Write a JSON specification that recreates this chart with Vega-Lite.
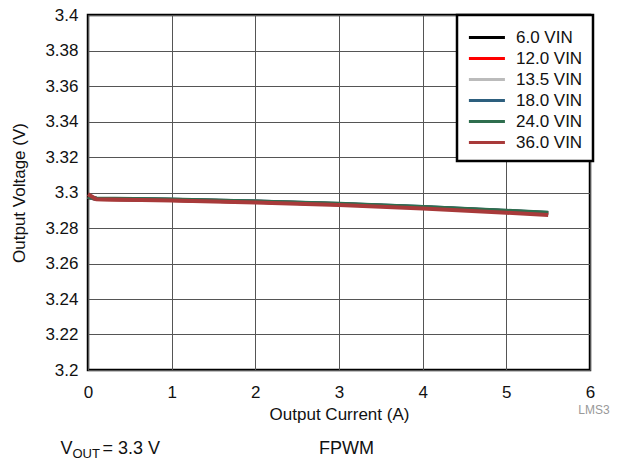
{
  "$schema": "https://vega.github.io/schema/vega-lite/v6.json",
  "width": 502,
  "height": 355,
  "autosize": "none",
  "padding": {"left": 88, "top": 15, "right": 32, "bottom": 93},
  "background": "white",
  "config": {
    "font": "Liberation Sans",
    "view": {"stroke": "black", "strokeWidth": 2.5},
    "text": {"font": "Liberation Sans"},
    "axis": {
      "labelFont": "Liberation Sans",
      "titleFont": "Liberation Sans",
      "labelFontSize": 17,
      "titleFontSize": 17,
      "titleFontWeight": "normal",
      "labelColor": "#111",
      "titleColor": "#111",
      "gridColor": "#555",
      "gridWidth": 1,
      "gridOpacity": 1,
      "domain": false,
      "ticks": false,
      "labelOverlap": false
    },
    "legend": {
      "labelFont": "Liberation Sans",
      "labelFontSize": 17,
      "labelColor": "#111"
    }
  },
  "data": {
    "values": [
      {"vin": "6.0 VIN", "i": 0, "v": 3.2975},
      {"vin": "6.0 VIN", "i": 0.1, "v": 3.2964},
      {"vin": "6.0 VIN", "i": 1, "v": 3.2958},
      {"vin": "6.0 VIN", "i": 2, "v": 3.2948},
      {"vin": "6.0 VIN", "i": 3, "v": 3.2934},
      {"vin": "6.0 VIN", "i": 4, "v": 3.2916},
      {"vin": "6.0 VIN", "i": 5, "v": 3.2894},
      {"vin": "6.0 VIN", "i": 5.5, "v": 3.2882},
      {"vin": "12.0 VIN", "i": 0, "v": 3.2976},
      {"vin": "12.0 VIN", "i": 0.1, "v": 3.2964},
      {"vin": "12.0 VIN", "i": 1, "v": 3.2958},
      {"vin": "12.0 VIN", "i": 2, "v": 3.2948},
      {"vin": "12.0 VIN", "i": 3, "v": 3.2934},
      {"vin": "12.0 VIN", "i": 4, "v": 3.2916},
      {"vin": "12.0 VIN", "i": 5, "v": 3.2895},
      {"vin": "12.0 VIN", "i": 5.5, "v": 3.2883},
      {"vin": "13.5 VIN", "i": 0, "v": 3.2976},
      {"vin": "13.5 VIN", "i": 0.1, "v": 3.2965},
      {"vin": "13.5 VIN", "i": 1, "v": 3.2959},
      {"vin": "13.5 VIN", "i": 2, "v": 3.2949},
      {"vin": "13.5 VIN", "i": 3, "v": 3.2935},
      {"vin": "13.5 VIN", "i": 4, "v": 3.2917},
      {"vin": "13.5 VIN", "i": 5, "v": 3.2895},
      {"vin": "13.5 VIN", "i": 5.5, "v": 3.2884},
      {"vin": "18.0 VIN", "i": 0, "v": 3.2976},
      {"vin": "18.0 VIN", "i": 0.1, "v": 3.2965},
      {"vin": "18.0 VIN", "i": 1, "v": 3.2959},
      {"vin": "18.0 VIN", "i": 2, "v": 3.2949},
      {"vin": "18.0 VIN", "i": 3, "v": 3.2935},
      {"vin": "18.0 VIN", "i": 4, "v": 3.2918},
      {"vin": "18.0 VIN", "i": 5, "v": 3.2896},
      {"vin": "18.0 VIN", "i": 5.5, "v": 3.2885},
      {"vin": "24.0 VIN", "i": 0, "v": 3.2976},
      {"vin": "24.0 VIN", "i": 0.1, "v": 3.2966},
      {"vin": "24.0 VIN", "i": 1, "v": 3.2960},
      {"vin": "24.0 VIN", "i": 2, "v": 3.2950},
      {"vin": "24.0 VIN", "i": 3, "v": 3.2936},
      {"vin": "24.0 VIN", "i": 4, "v": 3.2919},
      {"vin": "24.0 VIN", "i": 5, "v": 3.2897},
      {"vin": "24.0 VIN", "i": 5.5, "v": 3.2886},
      {"vin": "36.0 VIN", "i": 0, "v": 3.2990},
      {"vin": "36.0 VIN", "i": 0.1, "v": 3.2962},
      {"vin": "36.0 VIN", "i": 1, "v": 3.2955},
      {"vin": "36.0 VIN", "i": 2, "v": 3.2944},
      {"vin": "36.0 VIN", "i": 3, "v": 3.2929},
      {"vin": "36.0 VIN", "i": 4, "v": 3.2910},
      {"vin": "36.0 VIN", "i": 5, "v": 3.2886},
      {"vin": "36.0 VIN", "i": 5.5, "v": 3.2873}
    ]
  },
  "layer": [
    {
      "mark": {"type": "line", "strokeWidth": 4},
      "encoding": {
        "x": {
          "field": "i", "type": "quantitative",
          "scale": {"domain": [0, 6], "nice": false},
          "axis": {"values": [0, 1, 2, 3, 4, 5, 6], "tickCount": 7, "format": "d", "title": "Output Current (A)", "labelPadding": 14, "titlePadding": 6, "labelFlush": false}
        },
        "y": {
          "field": "v", "type": "quantitative",
          "scale": {"domain": [3.2, 3.4], "nice": false, "zero": false},
          "axis": {"values": [3.2, 3.22, 3.24, 3.26, 3.28, 3.3, 3.32, 3.34, 3.36, 3.38, 3.4], "tickCount": 11, "format": "~g", "title": "Output Voltage (V)", "labelPadding": 10, "titlePadding": 16, "labelFlush": false}
        },
        "color": {
          "field": "vin", "type": "nominal",
          "scale": {
            "domain": ["6.0 VIN", "12.0 VIN", "13.5 VIN", "18.0 VIN", "24.0 VIN", "36.0 VIN"],
            "range": ["#000000", "#ff0000", "#bbbbbb", "#2d5f7e", "#2e6e4e", "#a83a3a"]
          },
          "legend": {
            "title": null,
            "orient": "none",
            "legendX": 369,
            "legendY": 0,
            "symbolType": "M-1,0H2.4",
            "symbolStrokeWidth": 3,
            "symbolSize": 449,
            "labelOffset": 24,
            "rowPadding": 0,
            "padding": 10,
            "strokeColor": "black",
            "fillColor": "white",
            "encode": {"legend": {"update": {"strokeWidth": {"value": 2.5}}}}
          }
        }
      }
    },
    {
      "data": {"values": [{}]},
      "layer": [
        {
          "mark": {"type": "text", "align": "left", "baseline": "alphabetic", "fontSize": 18, "color": "#111"},
          "encoding": {"x": {"datum": -0.33}, "y": {"datum": 3.1528}, "text": {"value": "V"}}
        },
        {
          "mark": {"type": "text", "align": "left", "baseline": "alphabetic", "fontSize": 13, "color": "#111", "dx": 12, "dy": 4},
          "encoding": {"x": {"datum": -0.33}, "y": {"datum": 3.1528}, "text": {"value": "OUT"}}
        },
        {
          "mark": {"type": "text", "align": "left", "baseline": "alphabetic", "fontSize": 18, "color": "#111", "dx": 42},
          "encoding": {"x": {"datum": -0.33}, "y": {"datum": 3.1528}, "text": {"value": "= 3.3 V"}}
        },
        {
          "mark": {"type": "text", "align": "left", "baseline": "alphabetic", "fontSize": 18, "color": "#111"},
          "encoding": {"x": {"datum": 2.76}, "y": {"datum": 3.1528}, "text": {"value": "FPWM"}}
        },
        {
          "mark": {"type": "text", "align": "left", "baseline": "alphabetic", "fontSize": 12, "color": "#999"},
          "encoding": {"x": {"datum": 5.86}, "y": {"datum": 3.175}, "text": {"value": "LMS3"}}
        }
      ]
    }
  ]
}
